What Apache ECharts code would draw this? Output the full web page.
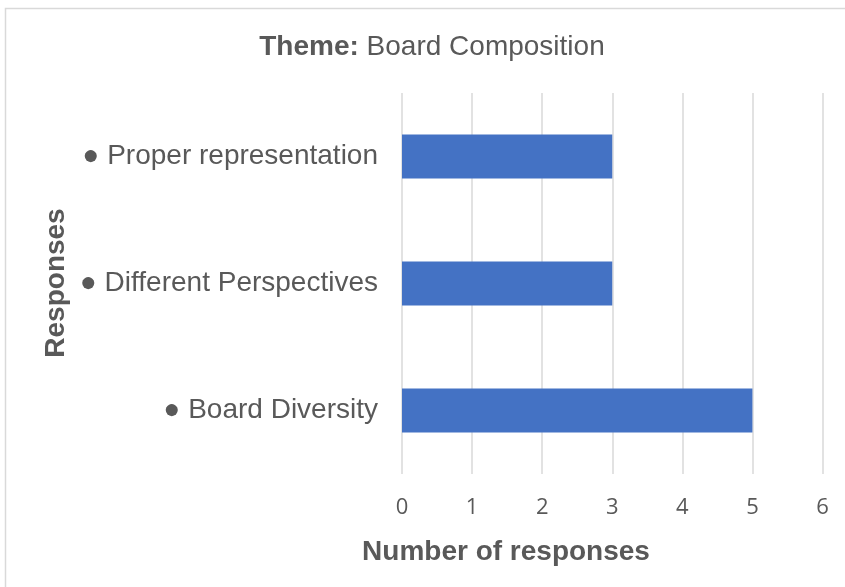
<!DOCTYPE html>
<html><head><meta charset="utf-8">
<script src="https://cdn.jsdelivr.net/npm/echarts@6/dist/echarts.min.js"></script>
<style>html,body{margin:0;padding:0;background:#fff}#c{width:845px;height:587px}</style>
</head><body><div id="c"></div>
<script>
const categories = ['● Board Diversity', '● Different Perspectives', '● Proper representation'];
const values = [5, 3, 3];
const xTicks = [0, 1, 2, 3, 4, 5, 6];

const chart = echarts.init(document.getElementById('c'), null, {renderer: 'canvas'});
chart.setOption({
  animation: false,
  backgroundColor: '#fff',
  graphic: [
    {type: 'rect', shape: {x: 5.5, y: 8.5, width: 860, height: 600}, style: {fill: 'none', stroke: '#d9d9d9', lineWidth: 1.5}, z: -1},
    {type: 'text', x: 432, y: 47, style: {
      rich: {b: {fontWeight: 'bold', fontSize: 28, fill: '#595959', fontFamily: 'Liberation Sans'},
             n: {fontSize: 28, fill: '#595959', fontFamily: 'Liberation Sans'}},
      text: '{b|Theme:}{n| Board Composition}', align: 'center', verticalAlign: 'middle'}},
    {type: 'text', x: 506, y: 552, style: {text: 'Number of responses', fontSize: 28, fontWeight: 'bold', fill: '#595959', fontFamily: 'Liberation Sans', align: 'center', verticalAlign: 'middle'}},
    {type: 'text', x: 56, y: 283, rotation: Math.PI / 2, style: {text: 'Responses', fontSize: 28, fontWeight: 'bold', fill: '#595959', fontFamily: 'Liberation Sans', align: 'center', verticalAlign: 'middle'}}
  ],
  grid: {left: 402, right: 22.5, top: 93, bottom: 113, containLabel: false},
  xAxis: {
    type: 'value', min: 0, max: 6, interval: 1,
    axisLine: {show: false}, axisTick: {show: false},
    splitLine: {lineStyle: {color: '#d9d9d9', width: 1.5}},
    axisLabel: {color: '#595959', fontSize: 22, fontFamily: 'Open Sans', margin: 23,
      formatter: v => xTicks.includes(v) ? String(v) : ''}
  },
  yAxis: {
    type: 'category', data: categories,
    axisLine: {show: false}, axisTick: {show: false},
    axisLabel: {color: '#595959', fontSize: 28, fontFamily: 'Liberation Sans', margin: 24}
  },
  series: [{
    type: 'bar', data: values, barWidth: 44,
    itemStyle: {color: '#4472c4'}
  }]
});
</script></body></html>
